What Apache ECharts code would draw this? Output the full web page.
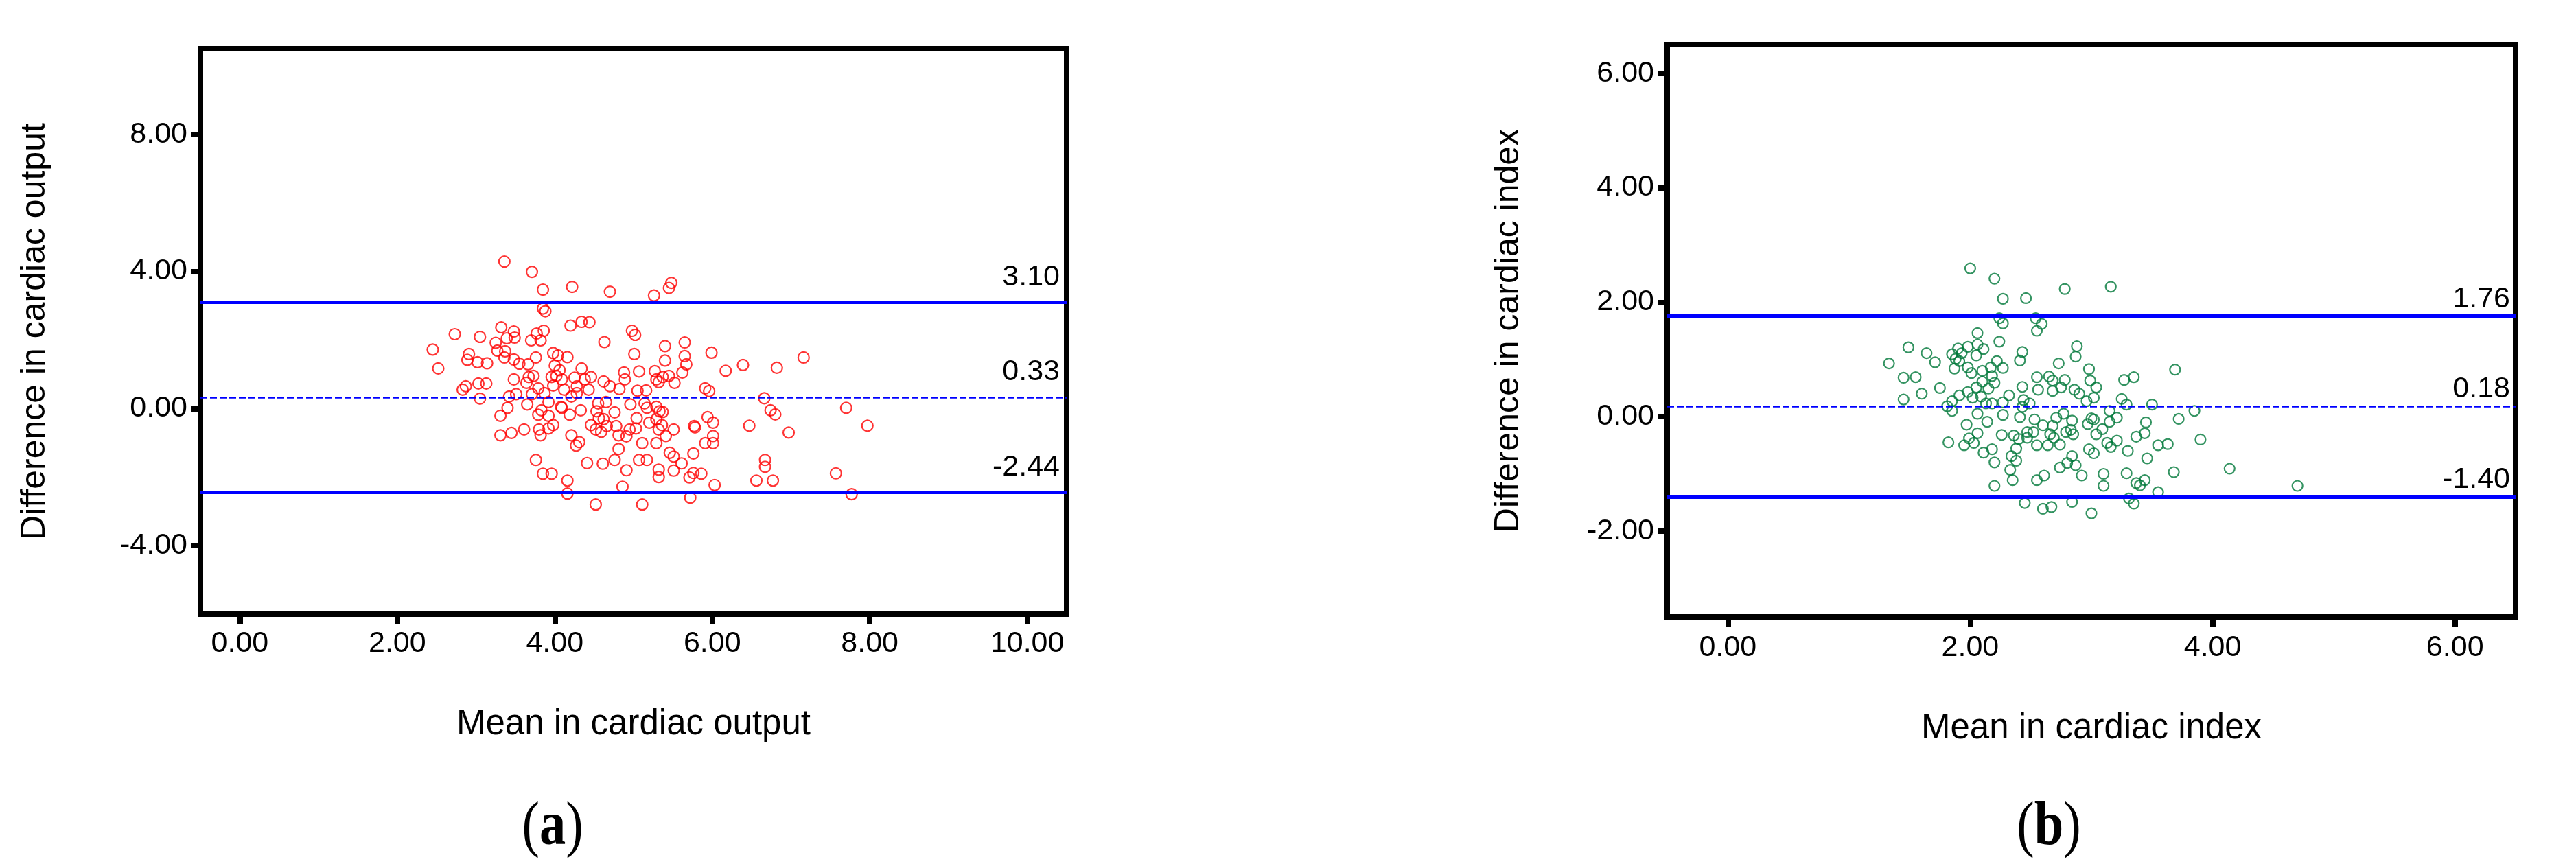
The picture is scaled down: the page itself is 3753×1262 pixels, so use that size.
<!DOCTYPE html>
<html>
<head>
<meta charset="utf-8">
<script src="https://cdn.jsdelivr.net/npm/echarts@6/dist/echarts.min.js"></script>
<style>
  html, body { margin: 0; padding: 0; background: #fff; }
  #main { width: 3753px; height: 1262px; }
</style>
</head>
<body>
<div id="main"></div>
<script>
// panel (a): cardiac output, [mean, difference]
const outputPoints = [
  [3.36, 4.29], [3.71, 3.99], [3.85, 3.47], [4.22, 3.55], [4.70, 3.41], [5.26, 3.30], [5.48, 3.67], [5.45, 3.52],
  [3.85, 2.92], [3.88, 2.84], [4.20, 2.42], [4.34, 2.53], [4.44, 2.52],
  [2.73, 2.17], [3.05, 2.09], [3.32, 2.37], [3.48, 2.25], [3.49, 2.07], [3.39, 2.05], [3.25, 1.92], [3.70, 1.99],
  [3.77, 2.19], [3.86, 2.27], [3.82, 1.99], [2.45, 1.72], [4.63, 1.94], [4.98, 2.27], [5.02, 2.15],
  [3.27, 1.69], [3.37, 1.67], [3.36, 1.49], [2.91, 1.59], [2.89, 1.42], [3.02, 1.35], [3.14, 1.32], [3.48, 1.43],
  [3.55, 1.31], [3.66, 1.29], [3.76, 1.49], [3.98, 1.62], [4.04, 1.55], [4.16, 1.50], [5.01, 1.59],
  [2.52, 1.17], [4.34, 1.17], [4.88, 1.05], [5.07, 1.08], [5.27, 1.09], [4.00, 1.25], [4.06, 1.12],
  [3.96, 0.92], [4.02, 0.95], [4.09, 0.85], [4.25, 0.90], [4.38, 0.85], [4.46, 0.92], [4.62, 0.79], [4.70, 0.65],
  [4.82, 0.57], [4.89, 0.85], [5.29, 0.85], [3.48, 0.85], [3.64, 0.75], [3.73, 0.95], [3.67, 0.92], [2.87, 0.65],
  [2.83, 0.55], [3.03, 0.73], [3.13, 0.73], [3.79, 0.59], [3.87, 0.45], [3.98, 0.67], [4.12, 0.55], [4.28, 0.65],
  [4.43, 0.55], [4.28, 0.45], [4.21, 0.35], [5.05, 0.52], [5.16, 0.53], [3.42, 0.35], [3.51, 0.42], [3.71, 0.42],
  [3.05, 0.29], [3.92, 0.19], [4.08, 0.05], [4.55, 0.15], [4.65, 0.19], [4.96, 0.12], [5.14, 0.15], [5.17, 0.02],
  [5.29, 0.05], [5.33, -0.08], [3.40, 0.02], [3.65, 0.12], [3.31, -0.21], [3.79, -0.18], [3.83, -0.05], [3.92, -0.21],
  [4.09, 0.02], [4.19, -0.18], [4.33, -0.05], [4.53, -0.08], [4.62, -0.31], [4.76, -0.11], [4.56, -0.28],
  [4.46, -0.48], [4.52, -0.61], [4.66, -0.51], [4.78, -0.51], [4.59, -0.68], [4.95, -0.61], [5.04, -0.28],
  [5.11, -1.01], [5.20, -0.41], [5.29, -0.31], [5.32, -0.61], [5.29, -1.01], [4.91, -0.81], [4.81, -0.78], [5.03, -0.58],
  [3.31, -0.78], [3.45, -0.71], [3.61, -0.61], [3.80, -0.61], [3.82, -0.78], [3.92, -0.58], [3.98, -0.48],
  [4.21, -0.78], [4.27, -1.08], [4.31, -0.98], [4.81, -1.18], [4.76, -1.50],
  [3.76, -1.50], [3.85, -1.90], [3.96, -1.90], [4.16, -2.10], [4.16, -2.48], [4.41, -1.59], [4.61, -1.61],
  [4.91, -1.80], [4.86, -2.28], [5.07, -1.50], [5.17, -1.50], [5.32, -1.78], [5.32, -2.00], [4.52, -2.80], [5.11, -2.80],
  [5.40, 1.82], [5.65, 1.93], [5.65, 1.53], [5.40, 1.40], [5.67, 1.29], [5.62, 1.05], [5.52, 0.75], [5.45, 0.95],
  [5.32, 0.77], [5.37, 0.92], [5.99, 1.63], [6.17, 1.10], [6.39, 1.27], [6.82, 1.19], [7.16, 1.49], [5.91, 0.59],
  [5.96, 0.51], [6.66, 0.30], [6.74, -0.05], [6.80, -0.17], [7.70, 0.02], [7.97, -0.50], [6.47, -0.50], [6.97, -0.70],
  [5.94, -0.25], [6.01, -0.41], [5.77, -0.51], [5.78, -0.55], [5.37, -0.10], [5.36, -0.48], [5.51, -0.61],
  [5.41, -0.80], [6.01, -0.80], [6.01, -1.01], [5.91, -1.01], [5.46, -1.29], [5.51, -1.40], [5.61, -1.60],
  [5.76, -1.31], [5.51, -1.81], [5.71, -2.01], [5.76, -1.88], [5.86, -1.90], [6.03, -2.23], [5.72, -2.60],
  [6.67, -1.50], [6.67, -1.70], [6.56, -2.10], [6.77, -2.10], [7.57, -1.89], [7.77, -2.50]
];
const outputLines = [3.10, 0.33, -2.44];
const outputXTicks = [0, 2, 4, 6, 8, 10];
const outputYTicks = [-4, 0, 4, 8];

// panel (b): cardiac index, [mean, difference]
const indexPoints = [
  [2.00, 2.59], [2.20, 2.41], [2.78, 2.23], [2.27, 2.06], [2.46, 2.07], [2.24, 1.72], [2.27, 1.63], [2.54, 1.72],
  [2.59, 1.62], [2.55, 1.50], [2.06, 1.46], [2.24, 1.31], [1.49, 1.21], [1.64, 1.11], [1.71, 0.95], [1.33, 0.93],
  [1.45, 0.68], [1.55, 0.69], [1.45, 0.30], [1.60, 0.40], [1.75, 0.50], [1.85, 1.09], [1.90, 1.19], [1.98, 1.22],
  [2.06, 1.26], [2.11, 1.18], [2.05, 1.07], [1.93, 1.11], [1.88, 1.01], [1.91, 0.97], [1.87, 0.84], [1.98, 0.86],
  [2.01, 0.76], [2.10, 0.80], [2.17, 0.86], [2.22, 0.97], [2.27, 0.85], [2.18, 0.71], [2.20, 0.59], [2.15, 0.49],
  [2.10, 0.61], [2.05, 0.51], [1.98, 0.43], [1.91, 0.37], [1.85, 0.27], [1.81, 0.18], [1.85, 0.10], [2.02, 0.33],
  [2.09, 0.35], [2.13, 0.23], [2.18, 0.23], [2.27, 0.25], [2.32, 0.37], [2.43, 1.13], [2.41, 0.98], [2.43, 0.52],
  [2.55, 0.69], [2.56, 0.47], [2.49, 0.23], [2.43, 0.17], [2.41, -0.01], [2.27, 0.03], [2.14, -0.09], [2.06, 0.05],
  [1.97, -0.14], [2.06, -0.29], [1.99, -0.38], [2.03, -0.46], [1.95, -0.50], [1.82, -0.45], [2.11, -0.63],
  [2.18, -0.57], [2.20, -0.80], [2.26, -0.32], [2.36, -0.33], [2.38, -0.56], [2.34, -0.69], [2.38, -0.77],
  [2.33, -0.93], [2.35, -1.11], [2.20, -1.21], [2.45, -1.51], [2.60, -1.61], [2.67, -1.58], [2.84, -1.49],
  [3.00, -1.69], [2.55, -1.11], [2.61, -1.03], [2.74, -0.89], [2.80, -0.81], [2.84, -0.69], [2.87, -0.85],
  [2.92, -1.03], [2.53, -0.05], [2.52, -0.27], [2.47, -0.37], [2.55, -0.50], [2.64, -0.50], [2.66, -0.31],
  [2.68, -0.16], [2.71, -0.02], [2.77, 0.05], [2.84, -0.07], [2.83, -0.23], [2.85, -0.31], [2.74, -0.49],
  [2.69, -0.37], [2.97, -0.13], [3.00, -0.03], [2.98, -0.57], [2.68, 0.45], [2.75, 0.51], [2.78, 0.64],
  [2.73, 0.93], [2.65, 0.70], [2.68, 0.63], [2.86, 0.47], [2.90, 0.40], [2.88, 1.23], [2.87, 1.05], [2.98, 0.83],
  [2.99, 0.63], [2.96, 0.27], [2.44, 0.29], [2.60, -0.15], [2.47, -0.27], [2.40, -0.39], [2.79, -0.27],
  [3.16, 2.27], [3.69, 0.82], [3.04, 0.51], [3.27, 0.64], [3.35, 0.69], [3.02, 0.33], [3.25, 0.31], [3.29, 0.21],
  [3.50, 0.21], [3.85, 0.10], [3.15, 0.10], [3.21, -0.02], [3.02, -0.05], [3.15, -0.09], [3.09, -0.22],
  [3.04, -0.31], [3.45, -0.10], [3.44, -0.29], [3.37, -0.35], [3.72, -0.04], [3.90, -0.40], [3.13, -0.46],
  [3.21, -0.42], [3.16, -0.53], [3.30, -0.60], [3.55, -0.50], [3.63, -0.48], [3.02, -0.64], [3.46, -0.73],
  [4.14, -0.91], [3.68, -0.97], [3.10, -1.00], [3.29, -0.99], [3.10, -1.21], [3.44, -1.11], [3.37, -1.16],
  [3.40, -1.20], [3.55, -1.32], [3.31, -1.43], [3.35, -1.52], [4.70, -1.21]
];
const indexLines = [1.76, 0.18, -1.40];
const indexXTicks = [0, 2, 4, 6];
const indexYTicks = [-2, 0, 2, 4, 6];

const sans = 'Liberation Sans, Arial, sans-serif';
const serif = 'Liberation Serif, Times New Roman, serif';
const fmt = (v) => Number(v).toFixed(2);

const chart = echarts.init(document.getElementById('main'));

// x axis with only the given ticks
const makeX = (gridIndex, min, max, ticks, name, nameGap, labelMargin) => ({
  type: 'value',
  gridIndex,
  min,
  max,
  axisLine: { show: false, onZero: false },
  splitLine: { show: false },
  axisTick: { customValues: ticks, length: 14, lineStyle: { color: '#000', width: 8 } },
  axisLabel: { customValues: ticks, formatter: fmt, margin: labelMargin, color: '#000', fontSize: 43, fontFamily: sans },
  name,
  nameLocation: 'middle',
  nameGap,
  nameTextStyle: { color: '#000', fontSize: 51, fontFamily: sans },
});

const makeY = (gridIndex, min, max, ticks, name, nameGap) => ({
  type: 'value',
  gridIndex,
  min,
  max,
  axisLine: { show: false, onZero: false },
  splitLine: { show: false },
  axisTick: { customValues: ticks, length: 14, lineStyle: { color: '#000', width: 8 } },
  axisLabel: { customValues: ticks, formatter: fmt, margin: 19, color: '#000', fontSize: 43, fontFamily: sans },
  name,
  nameLocation: 'middle',
  nameGap,
  nameTextStyle: { color: '#000', fontSize: 50, fontFamily: sans },
});

// mean line dashed, limits solid
const makeLines = (values, dist) => ({
  silent: true,
  symbol: ['none', 'none'],
  label: {
    show: true,
    position: 'insideEndTop',
    distance: dist,
    formatter: (p) => fmt(p.value),
    color: '#000',
    fontSize: 43,
    fontFamily: sans,
  },
  data: values.map((v, i) => ({
    yAxis: v,
    lineStyle: i === 1
      ? { color: '#0000ff', width: 2.5, type: [10, 4] }
      : { color: '#0000ff', width: 5, type: 'solid' },
  })),
});

// panel letter, bold inside plain brackets
const panelTag = (letter, x) => ({
  type: 'text',
  x,
  y: 1207,
  scaleX: 0.85,
  style: {
    text: '{p|(}{b|' + letter + '}{p|)}',
    align: 'center',
    verticalAlign: 'middle',
    rich: {
      p: { fontSize: 90, fontFamily: serif, fill: '#000' },
      b: { fontSize: 90, fontFamily: serif, fontWeight: 'bold', fill: '#000' },
    },
  },
});

const option = {
  animation: false,
  backgroundColor: '#fff',
  grid: [
    { left: 292, top: 71, width: 1262, height: 824, show: true, borderColor: '#000', borderWidth: 8 },
    { left: 2429, top: 65, width: 1236, height: 834, show: true, borderColor: '#000', borderWidth: 8 },
  ],
  xAxis: [
    makeX(0, -0.5, 10.5, outputXTicks, 'Mean in cardiac output', 135, 22),
    makeX(1, -0.5, 6.5, indexXTicks, 'Mean in cardiac index', 137, 24),
  ],
  yAxis: [
    makeY(0, -6, 10.5, outputYTicks, 'Difference in cardiac output', 216),
    makeY(1, -3.5, 6.5, indexYTicks, 'Difference in cardiac index', 206),
  ],
  series: [
    {
      type: 'scatter',
      xAxisIndex: 0,
      yAxisIndex: 0,
      symbol: 'circle',
      symbolSize: 16,
      itemStyle: { color: 'rgba(0,0,0,0)', borderColor: '#ff0000', borderWidth: 2.2 },
      emphasis: { disabled: true },
      data: outputPoints,
      markLine: makeLines(outputLines, [10, 15]),
    },
    {
      type: 'scatter',
      xAxisIndex: 1,
      yAxisIndex: 1,
      symbol: 'circle',
      symbolSize: 15,
      itemStyle: { color: 'rgba(0,0,0,0)', borderColor: '#00783a', borderWidth: 2.2 },
      emphasis: { disabled: true },
      data: indexPoints,
      markLine: makeLines(indexLines, [8, 3]),
    },
  ],
  graphic: [panelTag('a', 805), panelTag('b', 2985)],
};

chart.setOption(option);

window.addEventListener('resize', function () {
  chart.resize();
});
</script>
</body>
</html>
